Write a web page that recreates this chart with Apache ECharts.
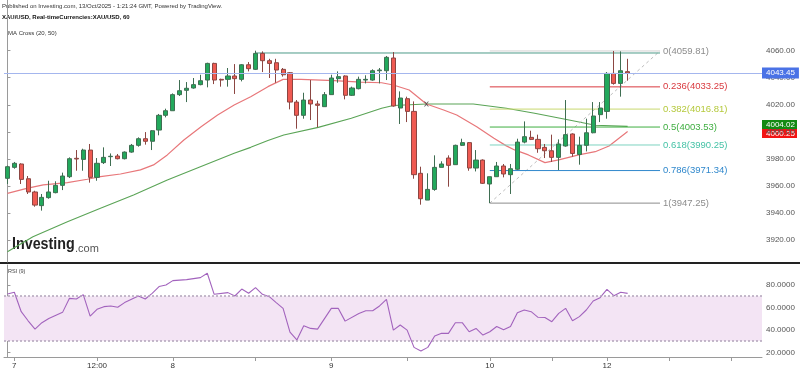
<!DOCTYPE html>
<html><head><meta charset="utf-8">
<script src="https://cdn.jsdelivr.net/npm/echarts@6/dist/echarts.min.js"></script>
<style>html,body{margin:0;padding:0;background:#fff}#c{width:800px;height:372px}</style>
</head><body><div id="c"></div>
<script>
// ---------- data ----------
const opens = [3965.6,3973.7,3976.2,3965.3,3955.5,3945.4,3951.3,3955.0,3960.4,3966.8,
3980.4,3979.6,3986.5,3966.3,3977.2,3981.6,3982.1,3980.1,3985.0,3990.0,
3994.9,3993.0,4001.3,4012.2,4015.6,4027.5,4030.7,4032.4,4034.9,4038.3,
4050.6,4038.8,4038.8,4041.3,4038.8,4049.6,4046.2,4058.0,4052.6,4051.1,
4046.2,4043.7,4022.0,4012.2,4023.5,4020.6,4018.6,4027.5,4039.3,4041.3,
4027.0,4031.9,4038.3,4038.3,4045.2,4045.2,4054.6,4017.6,4024.5,4015.1,
3969.3,3949.5,3957.4,3973.7,3980.6,3975.7,3990.0,3992.0,3973.2,3979.1,
3961.4,3966.8,3974.7,3968.3,3972.3,3992.4,3995.9,3994.4,3988.5,3986.0,
3981.1,3989.5,3998.4,3983.2,3990.0,3999.3,4012.7,4015.1,4043.2,4035.8,
4044.5];
const closes = [3974.2,3976.7,3964.8,3955.5,3945.8,3951.5,3955.5,3960.4,3967.3,3980.1,
3979.9,3986.5,3966.3,3976.7,3981.1,3981.9,3980.1,3985.0,3990.0,3994.9,
3993.0,4000.8,4012.2,4015.6,4027.5,4030.4,4032.2,4034.9,4037.8,4050.6,
4038.3,4038.3,4041.3,4039.3,4049.6,4046.7,4058.0,4052.6,4050.6,4045.7,
4042.2,4022.0,4012.2,4023.5,4020.6,4019.6,4027.5,4039.8,4040.8,4027.0,
4032.4,4038.8,4038.8,4045.2,4045.7,4055.1,4019.1,4025.0,4015.1,3968.3,
3950.5,3957.4,3973.7,3976.2,3975.2,3990.0,3992.0,3973.2,3979.1,3961.9,
3966.8,3974.7,3968.8,3972.7,3992.4,3996.4,3994.4,3987.5,3986.0,3981.1,
3991.0,3997.9,3984.0,3990.0,3999.3,4011.7,4017.6,4043.2,4035.8,4045.2,
4043.45];
const lows = [3961.4,3972.7,3961.4,3954.0,3944.6,3941.7,3950.5,3954.5,3956.9,3965.8,
3971.2,3971.2,3962.4,3963.8,3976.2,3974.7,3979.6,3979.6,3984.5,3989.0,
3990.5,3986.5,3997.4,4010.7,4015.6,4026.5,4022.0,4031.9,4034.4,4032.9,
4035.3,4033.4,4033.4,4028.0,4037.3,4044.7,4045.7,4044.2,4039.8,4036.3,
4040.8,4016.6,4002.3,4009.7,4008.7,4003.3,4018.6,4027.5,4036.3,4024.0,
4026.5,4031.4,4035.8,4037.8,4035.8,4038.3,4018.6,4005.8,4007.2,3965.3,
3946.1,3949.5,3956.4,3973.7,3959.4,3975.7,3989.5,3971.2,3970.7,3961.4,
3947.25,3966.8,3966.3,3954.0,3971.7,3991.5,3993.9,3984.5,3980.6,3977.7,
3971.7,3989.0,3981.6,3975.7,3985.5,3998.9,4007.2,4009.7,4034.9,4026.0,
4037.8];
const highs = [3975.0,3977.7,3976.7,3967.3,3956.4,3954.0,3963.8,3963.4,3969.8,3981.1,
3986.5,3987.5,3991.0,3980.6,3988.5,3984.0,3983.6,3985.5,3991.0,3995.9,
3999.8,4001.3,4013.2,4017.1,4028.4,4038.3,4036.8,4039.8,4042.2,4051.1,
4051.1,4039.3,4047.2,4050.1,4050.1,4051.6,4060.0,4059.5,4054.0,4054.0,
4047.2,4044.2,4023.5,4028.9,4038.3,4023.0,4029.4,4042.2,4044.7,4041.8,
4033.4,4040.8,4041.8,4046.2,4047.2,4056.1,4059.0,4029.9,4026.0,4022.5,
3974.2,3969.3,3982.6,3978.2,3982.6,3990.5,3994.9,3992.4,3986.5,3979.6,
3966.8,3977.7,3976.2,3976.2,3994.9,4007.7,4000.8,3997.9,3991.0,3997.9,
3994.4,4023.5,3998.9,3996.4,4009.7,4022.0,4022.0,4044.2,4059.81,4059.5,
4054.0];

const ma20X = [0,2.8,5.2,8.7,11.6,13.5,16.4,19.3,21.2,23.2,25.6,28.1,30.5,32.9,35.3,37.8,40,42.6,47.4,51.3,54.3,56,58.3,60.8,63.3,65.2,68.1,70.6,72.4,73.6,75.6,78,80,82.9,85.3,87.3,90];
const ma20Y = [3954.5,3958.2,3960.7,3962.4,3964.9,3966.8,3968.8,3971.8,3975.5,3982.9,3993.9,4003.8,4012.4,4019.8,4026.0,4033.4,4038.8,4038.8,4037.8,4036.8,4036.3,4034.6,4030.9,4020.6,4016.1,4012.4,4003.8,3995.2,3989.6,3986.6,3982.9,3977.2,3979.2,3982.9,3985.3,3989.5,4000.25];
const ma50X = [0,3.7,8.7,13.5,18.3,23.2,28,32.9,35.3,37.8,40.1,45.1,49.9,54.3,56,60.8,67.6,72.4,76.5,81.5,85.3,90];
const ma50Y = [3911.3,3922.4,3933.5,3943.4,3953.3,3964.4,3974.2,3984.1,3988.5,3993.5,3997.6,4003.3,4010.0,4017.4,4019.5,4020.6,4020.6,4017.4,4013.7,4008.7,4004.8,4004.02];

const rsiX = [0,1,2,3,4,5,6,8,9,10,11,12,13,14,15,16,17,19,20,21,22,23,24,26,28,29,30,32,33,34,35,36,37,38,39,40,41,42,43,44,45,47,48,49,
51,52,53,54,55,56,57,58,59,60,61,62,63,64,65,66,67,68,69,70,71,72,73,74,75,76,77,78,79,80,81,82,83,84,85,86,87,88,89,90];
const rsiY = [72,73.5,56.2,48.1,40.7,46.4,50.2,55.6,68.1,67.5,71.4,52.3,58.3,60.7,61.3,60.1,64.3,70.2,67.5,72.6,78.6,80,83.9,84.8,86.6,90.5,71.7,73.2,70.2,76.4,72.6,77.6,71.7,69.6,64.3,59.2,38,31,43.7,41.3,40.7,59.2,59.2,47.8,
54.6,57,57,61.3,67.2,39.8,44.3,39.8,24.4,21.1,24.4,34.5,36.9,36.9,46.4,46.4,38.3,41.3,35.4,38.3,43,40,43,55.3,57.7,56.2,51.2,51,47.3,54.7,59.2,48.2,51.8,57.7,65.7,68.7,76.1,70.5,73.5,72.5571];

const xLabelIdx = [1,13,24,47,70,87];
const xLabelText = ['7','12:00','8','9','10','12'];
const xTickIdx = [1,13,24,36,47,58,70,79,87,96,105];
const priceTicks = [3920,3940,3960,3980,4000,4020,4040,4060];
const rsiTicks = [20,40,60,80];

const fibRatios = ['0','0.236','0.382','0.5','0.618','0.786','1'];
const fibPrices = [4059.81,4033.25,4016.81,4003.53,3990.25,3971.34,3947.25];
const fibStartIdx = 70;
const fibEndIdx = 94.7;
const resistancePrice = 4058.3;
const resistanceStartIdx = 36;
const lastPrice = 4043.45;
const lastRsi = 72.5571;
const rsiBand = [30, 70];
const maCross = [60.8, 4020.6];

// ---------- chart ----------
const N = 110;
const cats = Array.from({length: N}, (_, i) => String(i));
const font = 'Liberation Sans, Arial, sans-serif';
const fibColors = ['#8c8c8c','#d9393f','#b5c93c','#3fae41','#45c2a6','#3088cc','#8c8c8c'];
const fibLineColors = ['#d2d2d2','#d9393f','#c9d86e','#3fae41','#7dd3c0','#3088cc','#8c8c8c'];
const GL = 4, GR = 38;

const chart = echarts.init(document.getElementById('c'), null, {renderer: 'canvas'});

const fibSeries = fibPrices.map((p, i) => ({
  type: 'line', xAxisIndex: 1, yAxisIndex: 0, z: 2, silent: true,
  data: [[fibStartIdx, p], [fibEndIdx, p]], symbol: 'none',
  color: fibLineColors[i],
  lineStyle: {color: fibLineColors[i], width: 1, type: 'solid'},
  endLabel: {show: true, distance: 3, formatter: fibRatios[i] + '(' + p.toFixed(2) + ')',
             color: fibColors[i], fontSize: 9.5, fontFamily: font}
}));

const baseGraphics = [
  {type: 'text', left: 2, top: 3, style: {text: 'Published on Investing.com, 13/Oct/2025 - 1:21:24 GMT, Powered by TradingView.', fontSize: 6, fill: '#333', fontFamily: font}},
  {type: 'text', left: 2, top: 14, style: {text: 'XAU/USD, Real-timeCurrencies:XAU/USD, 60', fontSize: 6, fontWeight: 'bold', fill: '#111', fontFamily: font}},
  {type: 'text', left: 8, top: 30, style: {text: 'MA Cross (20, 50)', fontSize: 6, fill: '#333', fontFamily: font}},
  {type: 'text', x: 12, y: 236, scaleX: 0.84, style: {text: 'Investing', fontSize: 17, fontWeight: 'bold', fill: '#222', fontFamily: font}},
  {type: 'text', left: 75, top: 243, style: {text: '.com', fontSize: 11, fill: '#555', fontFamily: font}},
  {type: 'line', shape: {x1: 0, y1: 263, x2: 800, y2: 263}, style: {stroke: '#222', lineWidth: 2}},
  {type: 'text', left: 8, top: 268, style: {text: 'RSI (9)', fontSize: 5.5, fill: '#444', fontFamily: font}}
];

const option = {
  animation: false,
  textStyle: {fontFamily: font},
  grid: [
    {left: GL, right: GR, top: 0, height: 262},
    {left: GL, right: GR, top: 265, height: 92}
  ],
  xAxis: [
    {gridIndex: 0, type: 'category', data: cats, boundaryGap: true, show: false},
    {gridIndex: 0, type: 'value', min: -0.5, max: N - 0.5, show: false},
    {gridIndex: 1, type: 'category', data: cats, boundaryGap: true,
     axisLine: {show: true, lineStyle: {color: '#9a9a9a'}},
     axisTick: {show: true, alignWithLabel: true, length: 4, interval: (i) => xTickIdx.includes(i), lineStyle: {color: '#9a9a9a'}},
     axisLabel: {show: true, interval: (i) => xLabelIdx.includes(i),
       formatter: (v) => { const k = xLabelIdx.indexOf(Number(v)); return k >= 0 ? xLabelText[k] : ''; },
       fontSize: 8, color: '#333', margin: 5},
     splitLine: {show: false}},
    {gridIndex: 1, type: 'value', min: -0.5, max: N - 0.5, show: false}
  ],
  yAxis: [
    {gridIndex: 0, type: 'value', position: 'right', min: 3903.7, max: 4097.5,
     axisLine: {show: true, lineStyle: {color: '#9a9a9a'}},
     axisTick: {show: true, length: 3, customValues: priceTicks, lineStyle: {color: '#9a9a9a'}},
     axisLabel: {show: true, customValues: priceTicks, formatter: (v) => v.toFixed(2), fontSize: 8, color: '#555', margin: 4},
     splitLine: {show: false}},
    {gridIndex: 1, type: 'value', position: 'right', min: 15.81, max: 97.83,
     axisLine: {show: true, lineStyle: {color: '#9a9a9a'}},
     axisTick: {show: true, length: 3, customValues: rsiTicks, lineStyle: {color: '#9a9a9a'}},
     axisLabel: {show: true, customValues: rsiTicks, formatter: (v) => v.toFixed(4), fontSize: 8, color: '#555', margin: 4},
     splitLine: {show: false}}
  ],
  series: [
    {type: 'line', name: 'MA50', xAxisIndex: 1, yAxisIndex: 0, data: ma50X.map((x, i) => [x, ma50Y[i]]),
     symbol: 'none', lineStyle: {color: '#5aa456', width: 1.1}, z: 2},
    {type: 'line', name: 'MA20', xAxisIndex: 1, yAxisIndex: 0, data: ma20X.map((x, i) => [x, ma20Y[i]]),
     symbol: 'none', lineStyle: {color: '#e8777a', width: 1.2}, z: 2},
    {type: 'line', name: 'fibTrend', xAxisIndex: 1, yAxisIndex: 0, silent: true,
     data: [[fibStartIdx, fibPrices[fibPrices.length - 1]], [fibEndIdx, fibPrices[0]]],
     symbol: 'none', lineStyle: {color: '#bdbdbd', width: 1, type: [3, 3]}, z: 2}
  ].concat(fibSeries).concat([
    {type: 'line', name: 'resistance', xAxisIndex: 1, yAxisIndex: 0, silent: true,
     data: [[resistanceStartIdx, resistancePrice], [fibEndIdx, resistancePrice]],
     symbol: 'none', lineStyle: {color: '#4d9b88', width: 1}, z: 2},
    {type: 'candlestick', xAxisIndex: 0, yAxisIndex: 0,
     data: opens.map((o, i) => [o, closes[i], lows[i], highs[i]]),
     barWidth: 4.6, z: 3,
     itemStyle: {color: '#22a95c', color0: '#ef5a52', borderColor: '#3f6e52', borderColor0: '#8c4642', borderWidth: 1},
     markLine: {symbol: 'none', silent: true, animation: false,
       data: [{yAxis: lastPrice, lineStyle: {color: '#a4b6ee', width: 1, type: 'solid'},
               label: {show: true, position: 'end', distance: 0, formatter: lastPrice.toFixed(2),
                       backgroundColor: '#4a72e6', color: '#fff', fontSize: 8, padding: [2, 4, 1, 4]}}]}},
    {type: 'scatter', xAxisIndex: 1, yAxisIndex: 0, data: [maCross], symbolSize: 5, z: 4,
     symbol: 'path://M0 0 L2 0 L5 3 L8 0 L10 0 L6 5 L10 10 L8 10 L5 7 L2 10 L0 10 L4 5 Z',
     itemStyle: {color: '#444'}},
    {type: 'line', name: 'RSI', xAxisIndex: 3, yAxisIndex: 1, data: rsiX.map((x, i) => [x, rsiY[i]]),
     symbol: 'none', lineStyle: {color: '#a263bd', width: 1.1}, z: 3,
     markArea: {silent: true, itemStyle: {color: '#f3e4f4'}, data: [[{yAxis: rsiBand[0]}, {yAxis: rsiBand[1]}]]},
     markLine: {symbol: 'none', silent: true, animation: false,
       data: [
         {yAxis: rsiBand[0], lineStyle: {color: '#b2a4bb', width: 1.5, type: [2, 2]}, label: {show: false}},
         {yAxis: rsiBand[1], lineStyle: {color: '#b2a4bb', width: 1.5, type: [2, 2]}, label: {show: false}},
         {yAxis: lastRsi, lineStyle: {opacity: 0}, label: {show: true, position: 'end', distance: 0,
           formatter: lastRsi.toFixed(4), backgroundColor: '#8a1a8a', color: '#fff', fontSize: 8, padding: [2, 3, 1, 3]}}
       ]}}
  ]),
  graphic: baseGraphics
};
chart.setOption(option);

// axis tags for the two moving averages, positioned through the y scale
const tagH = 9;
const yG = chart.convertToPixel({yAxisIndex: 0}, ma50Y[ma50Y.length - 1]);
const yR = chart.convertToPixel({yAxisIndex: 0}, ma20Y[ma20Y.length - 1]);
let gY = yG, rY = yR;
if (Math.abs(yR - yG) < tagH) {
  const m = (yG + yR) / 2; const s = yG <= yR ? 1 : -1;
  gY = m - s * tagH / 2; rY = m + s * tagH / 2;
}
const axisX = 800 - GR;
function tag(y, text, bg) {
  return {type: 'group', x: axisX, y: y - tagH / 2, z: 100, children: [
    {type: 'rect', shape: {x: 0, y: 0, width: 35, height: tagH}, style: {fill: bg}},
    {type: 'text', x: 4, y: tagH / 2 + 0.5, style: {text: text, fill: '#fff', fontSize: 8, verticalAlign: 'middle', fontFamily: font}}
  ]};
}
chart.setOption({graphic: baseGraphics.concat([
  tag(gY, ma50Y[ma50Y.length - 1].toFixed(2), '#138a13'),
  tag(rY, ma20Y[ma20Y.length - 1].toFixed(2), '#f21414')
])});
</script></body></html>
